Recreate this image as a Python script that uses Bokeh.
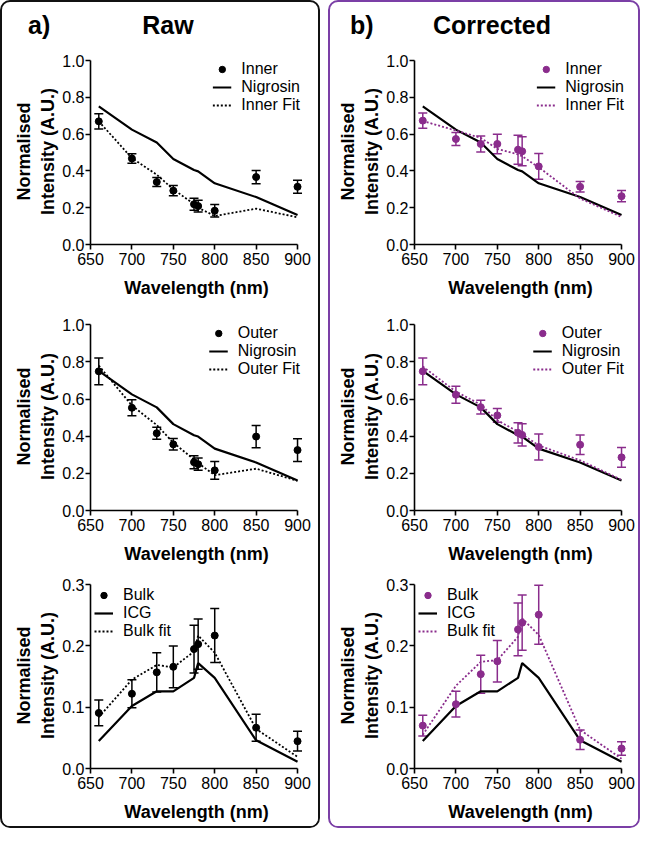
from bokeh.plotting import figure
from bokeh.models import (ColumnDataSource, Whisker, TeeHead, Range1d, FixedTicker,
                          Legend, LegendItem, Div, PrintfTickFormatter)
from bokeh.layouts import column, row
from bokeh.embed import file_html
from bokeh.resources import INLINE

# ---------------- data ----------------
wavelength = [660, 700, 730, 750, 775, 780, 800, 850, 900]
x_ticks = [650, 700, 750, 800, 850, 900]

nigrosin = [0.752, 0.625, 0.555, 0.465, 0.405, 0.398, 0.333, 0.258, 0.161]
icg = [0.045, 0.102, 0.126, 0.126, 0.148, 0.172, 0.148, 0.046, 0.011]

inner_raw = [0.670, 0.468, 0.340, 0.293, 0.219, 0.209, 0.184, 0.367, 0.314]
inner_raw_err = [0.041, 0.026, 0.025, 0.028, 0.032, 0.032, 0.034, 0.036, 0.035]
inner_raw_fit = [0.670, 0.470, 0.380, 0.300, 0.220, 0.200, 0.155, 0.195, 0.148]

inner_cor = [0.674, 0.574, 0.547, 0.547, 0.516, 0.507, 0.425, 0.314, 0.263]
inner_cor_err = [0.042, 0.035, 0.044, 0.053, 0.079, 0.079, 0.070, 0.029, 0.031]
inner_cor_fit = [0.672, 0.620, 0.580, 0.520, 0.490, 0.480, 0.420, 0.250, 0.150]

outer_raw = [0.749, 0.553, 0.416, 0.356, 0.260, 0.249, 0.216, 0.398, 0.325]
outer_raw_err = [0.072, 0.043, 0.032, 0.031, 0.035, 0.033, 0.048, 0.060, 0.061]
outer_raw_fit = [0.780, 0.565, 0.460, 0.365, 0.275, 0.255, 0.190, 0.225, 0.160]

outer_cor = [0.749, 0.623, 0.556, 0.512, 0.418, 0.407, 0.342, 0.354, 0.286]
outer_cor_err = [0.072, 0.046, 0.037, 0.037, 0.055, 0.060, 0.070, 0.053, 0.053]
outer_cor_fit = [0.775, 0.640, 0.570, 0.485, 0.425, 0.410, 0.350, 0.270, 0.165]

bulk_raw = [0.0907, 0.122, 0.157, 0.166, 0.195, 0.203, 0.217, 0.0666, 0.0446]
bulk_raw_err = [0.021, 0.023, 0.032, 0.034, 0.039, 0.041, 0.044, 0.022, 0.016]
bulk_raw_fit = [0.084, 0.145, 0.169, 0.165, 0.191, 0.217, 0.189, 0.0645, 0.019]

bulk_cor = [0.070, 0.105, 0.154, 0.175, 0.227, 0.238, 0.251, 0.047, 0.0326]
bulk_cor_err = [0.017, 0.021, 0.031, 0.034, 0.043, 0.045, 0.048, 0.016, 0.011]
bulk_cor_fit = [0.055, 0.135, 0.174, 0.177, 0.215, 0.245, 0.218, 0.063, 0.016]

y_ticks_nig = [0.0, 0.2, 0.4, 0.6, 0.8, 1.0]
y_ticks_icg = [0.0, 0.1, 0.2, 0.3]

BLACK = "#000000"
PURPLE = "#8A2C8C"
BOX_PURPLE = "#7B3FA6"
FONT = "Liberation Sans"


def panel(mean, err, fit, ref, labels, color, ymax, yticks, legend_loc,
          height, top, left, right, width, bottom, leg_margin):
    p = figure(width=width, height=height, output_backend="svg", toolbar_location=None,
               x_range=Range1d(650, 906), y_range=Range1d(0, ymax * 1.012),
               min_border_top=top, min_border_left=left, min_border_right=right,
               min_border_bottom=bottom)
    p.outline_line_color = None
    p.grid.visible = False
    p.background_fill_color = "white"
    p.border_fill_color = "white"

    for ax in (p.xaxis[0], p.yaxis[0]):
        ax.axis_line_width = 1.6
        ax.major_tick_line_width = 1.6
        ax.major_tick_out = 5
        ax.major_tick_in = 0
        ax.minor_tick_line_color = None
        ax.major_label_text_font = FONT
        ax.major_label_text_font_size = "16px"
        ax.major_label_text_color = "black"
        ax.axis_label_text_font = FONT
        ax.axis_label_text_font_size = "18px"
        ax.axis_label_text_font_style = "bold"
        ax.axis_label_text_color = "black"
    p.xaxis.major_label_standoff = 3
    p.yaxis.major_label_standoff = 1
    p.xaxis.bounds = (650, 900)
    p.yaxis.bounds = (0, ymax)
    p.xaxis.ticker = FixedTicker(ticks=x_ticks)
    p.yaxis.ticker = FixedTicker(ticks=yticks)
    p.yaxis.formatter = PrintfTickFormatter(format="%.1f")
    p.xaxis.axis_label = "Wavelength (nm)"
    p.yaxis.axis_label = "Normalised\nIntensity (A.U.)"
    p.xaxis.axis_label_standoff = 10
    p.yaxis.axis_label_standoff = 1

    src = ColumnDataSource(dict(x=wavelength, m=mean,
                                lo=[a - b for a, b in zip(mean, err)],
                                hi=[a + b for a, b in zip(mean, err)]))
    w = Whisker(source=src, base="x", lower="lo", upper="hi",
                line_color=color, line_width=1.5,
                lower_head=TeeHead(size=9, line_color=color, line_width=1.5),
                upper_head=TeeHead(size=9, line_color=color, line_width=1.5))
    p.add_layout(w)
    r_ref = p.line(wavelength, ref, line_color="black", line_width=2.2)
    r_fit = p.line(wavelength, fit, line_color=color, line_width=1.8, line_dash="2 2")
    # small copy of the points (hidden under the real ones) used as legend glyph
    r_leg = p.scatter("x", "m", source=src, size=5, color=color)
    p.scatter("x", "m", source=src, size=7, color=color)

    leg = Legend(items=[LegendItem(label=labels[0], renderers=[r_leg]),
                        LegendItem(label=labels[1], renderers=[r_ref]),
                        LegendItem(label=labels[2], renderers=[r_fit])],
                 location=legend_loc, border_line_color=None,
                 background_fill_alpha=0, label_text_font=FONT,
                 label_text_color="black",
                 label_text_font_size="16px", label_height=16, glyph_height=16,
                 glyph_width=19, spacing=0, padding=2, margin=leg_margin,
                 label_standoff=10)
    p.add_layout(leg)
    return p


def header(letter, title, width, letter_left, title_center):
    html = (f'<div style="position:relative;width:{width}px;height:44px;'
            f'font-family:\'{FONT}\';font-weight:bold;font-size:25px;color:black;">'
            f'<span style="position:absolute;left:{letter_left}px;top:6px;">{letter}</span>'
            f'<span style="position:absolute;left:{title_center}px;top:6px;'
            f'transform:translateX(-50%);white-space:nowrap;">{title}</span></div>')
    return Div(text=html, width=width, height=44, margin=(0, 0, 0, 0))


LW, RW = 316, 308
cols = []
for (lab, ttl, mean_sets, color, box_color, width, left, right, ll, tc) in [
        ("a)", "Raw", [(inner_raw, inner_raw_err, inner_raw_fit),
                       (outer_raw, outer_raw_err, outer_raw_fit),
                       (bulk_raw, bulk_raw_err, bulk_raw_fit)],
         BLACK, "#111111", LW, 88, 16, 26, 166),
        ("b)", "Corrected", [(inner_cor, inner_cor_err, inner_cor_fit),
                             (outer_cor, outer_cor_err, outer_cor_fit),
                             (bulk_cor, bulk_cor_err, bulk_cor_fit)],
         PURPLE, BOX_PURPLE, RW, 84, 12, 20, 162)]:
    p1 = panel(*mean_sets[0], nigrosin, ["Inner", "Nigrosin", "Inner Fit"], color, 1.0,
               y_ticks_nig, "top_right", 254, 12, left, right, width, 56, 2)
    p2 = panel(*mean_sets[1], nigrosin, ["Outer", "Nigrosin", "Outer Fit"], color, 1.0,
               y_ticks_nig, "top_right", 266, 22, left, right, width, 56, 2)
    p3 = panel(*mean_sets[2], icg, ["Bulk", "ICG", "Bulk fit"], color, 0.3,
               y_ticks_icg, "top_left", 260, 16, left, right, width, 58, 4)
    c = column(header(lab, ttl, width, ll, tc), p1, p2, p3, spacing=0,
               styles={"border": f"2px solid {box_color}", "border-radius": "10px",
                       "overflow": "hidden", "background-color": "white"})
    cols.append(c)

layout = row(cols[0], cols[1], spacing=8)

open("out.html", "w").write(file_html(layout, INLINE))
